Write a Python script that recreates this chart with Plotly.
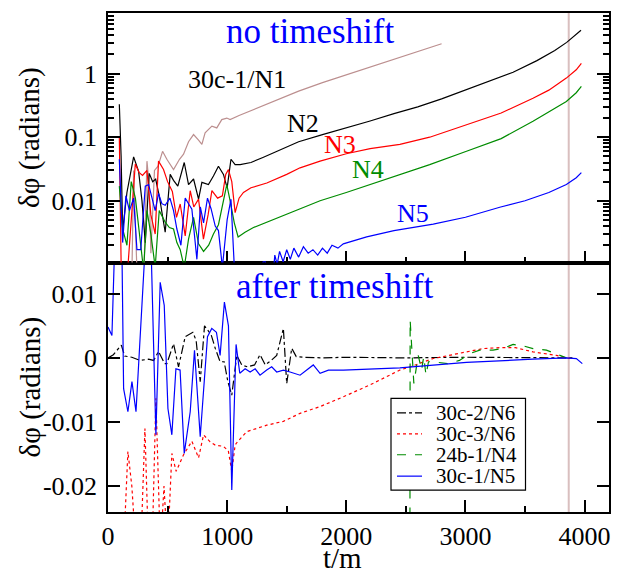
import plotly.graph_objects as go
import math

# ---------------- top panel: no timeshift (log scale) ----------------
t_n1 = [200, 215, 245, 300, 327, 345, 360, 390, 420, 458, 494, 550, 600, 634, 676, 718, 760, 788,
        815, 872, 913, 955, 997, 1025, 1100, 1193, 1400, 1600, 1800, 2000, 2200, 2400, 2600, 2800]
v_n1 = [0.0006, 0.03, 0.0006, 0.0006, 0.042, 0.018, 0.0015, 0.03, 0.035, 0.060, 0.045, 0.031, 0.045,
        0.054, 0.085, 0.110, 0.09, 0.077, 0.117, 0.149, 0.140, 0.189, 0.20, 0.189, 0.22, 0.26, 0.37,
        0.53, 0.72, 0.95, 1.25, 1.65, 2.2, 2.95]

t_n2 = [95, 110, 123, 159, 215, 257, 285, 313, 346, 375, 400, 430, 480, 522, 550, 586, 640, 676, 718,
        760, 788, 843, 885, 927, 969, 1000, 1032, 1067, 1109, 1200, 1300, 1400, 1600, 1800, 2000, 2200,
        2400, 2600, 2800, 3000, 3200, 3400, 3600, 3750, 3850, 3920, 3970]
v_n2 = [0.33, 0.05, 0.0034, 0.0135, 0.049, 0.029, 0.01, 0.0022, 0.027, 0.02, 0.022, 0.012, 0.0032,
        0.026, 0.021, 0.017, 0.040, 0.018, 0.022, 0.0106, 0.0195, 0.018, 0.0245, 0.035, 0.026, 0.016,
        0.045, 0.037, 0.037, 0.040, 0.048, 0.058, 0.085, 0.11, 0.14, 0.18, 0.235, 0.30, 0.40, 0.55,
        0.75, 1.05, 1.6, 2.3, 3.1, 4.0, 4.8]

t_n3 = [95, 112, 160, 200, 229, 260, 290, 327, 360, 396, 424, 466, 500, 540, 575, 606, 648, 690, 720,
        760, 801, 840, 872, 920, 960, 988, 1011, 1039, 1067, 1100, 1137, 1200, 1333, 1500, 1612, 1780,
        2000, 2200, 2450, 2700, 3009, 3300, 3567, 3700, 3847, 3930, 3973]
v_n3 = [0.1, 0.0006, 0.0006, 0.008, 0.038, 0.028, 0.025, 0.03, 0.006, 0.003, 0.042, 0.031, 0.02,
        0.014, 0.0055, 0.0089, 0.0028, 0.0144, 0.008, 0.0106, 0.0025, 0.006, 0.0144, 0.011, 0.012,
        0.026, 0.031, 0.02, 0.0065, 0.011, 0.0135, 0.016, 0.019, 0.026, 0.033, 0.042, 0.055, 0.066,
        0.077, 0.10, 0.158, 0.24, 0.41, 0.55, 0.85, 1.15, 1.45]

t_n4 = [95, 123, 159, 195, 230, 265, 299, 327, 360, 396, 430, 480, 515, 550, 578, 606, 640, 676, 718,
        760, 802, 845, 885, 927, 960, 997, 1025, 1060, 1092, 1150, 1221, 1400, 1612, 1780, 2000, 2200,
        2450, 2700, 3009, 3300, 3567, 3700, 3847, 3930, 3973]
v_n4 = [0.017, 0.0036, 0.002, 0.020, 0.011, 0.0025, 0.0008, 0.007, 0.003, 0.0009, 0.007, 0.0046,
        0.0038, 0.0036, 0.0022, 0.0017, 0.0009, 0.0025, 0.0055, 0.0021, 0.0016, 0.0020, 0.003, 0.0042,
        0.008, 0.018, 0.010, 0.0045, 0.0027, 0.0032, 0.0038, 0.0052, 0.0074, 0.010, 0.0135, 0.018,
        0.026, 0.037, 0.060, 0.095, 0.178, 0.25, 0.365, 0.5, 0.63]

t_n5 = [95, 123, 150, 180, 215, 243, 275, 313, 341, 370, 396, 424, 452, 480, 520, 550, 578, 612, 648,
        676, 704, 746, 775, 802, 835, 865, 900, 927, 960, 1000, 1032, 1067, 1100, 1250, 1303, 1320,
        1340, 1380, 1400, 1420, 1440, 1470, 1500, 1530, 1560, 1600, 1640, 1680, 1720, 1760, 1800, 1840,
        1880, 1930, 1975, 2171, 2400, 2730, 3000, 3288, 3500, 3700, 3847, 3930, 3973]
v_n5 = [0.045, 0.0022, 0.012, 0.007, 0.011, 0.0017, 0.0017, 0.017, 0.018, 0.011, 0.007, 0.013, 0.009,
        0.0085, 0.011, 0.007, 0.0036, 0.002, 0.011, 0.009, 0.0074, 0.0012, 0.008, 0.0045, 0.011,
        0.0075, 0.004, 0.0034, 0.0009, 0.005, 0.0106, 0.0005, 0.0005, 0.0005, 0.0011, 0.0011, 0.0005,
        0.0005, 0.0014, 0.0010, 0.0016, 0.0011, 0.0017, 0.0012, 0.0018, 0.0013, 0.0019, 0.0015, 0.0017,
        0.0014, 0.0018, 0.0015, 0.0020, 0.0018, 0.0021, 0.0027, 0.0034, 0.0043, 0.0055, 0.0079, 0.010,
        0.0135, 0.018, 0.023, 0.0277]

# ---------------- bottom panel: after timeshift ----------------
t_a = [0, 45, 112, 140, 200, 271, 340, 383, 424, 475, 494, 550, 592, 648, 712, 740, 774, 810, 866, 900,
       941, 975, 1006, 1039, 1081, 1123, 1170, 1230, 1276, 1320, 1370, 1416, 1472, 1500, 1542, 1580,
       1650, 1800, 2000, 2500, 3000, 3500, 3900]
v_a = [0, 0.0005, 0.002, 0.0003, 0.0001, -0.0004, -0.0002, -0.0004, 0.001, -0.0009, -0.0009, 0.0022,
       -0.0014, 0.0033, 0.004, 0.0027, -0.0037, 0.005, 0.0036, 0.0015, -0.0006, -0.0006, -0.0037,
       -0.0058, 0.0004, -0.0011, -0.0014, -0.0011, 0.0005, -0.0011, -0.0004, 0.0004, 0.0046, -0.004,
       0.0015, 0.0002, 0.0001, 0.0, 0.0001, 0.0, 0.0001, 0.0, 0.0]

t_b = [131, 167, 200, 235, 275, 310, 340, 370, 402, 440, 470, 500, 536, 572, 634, 704, 760, 802, 857,
       900, 969, 1010, 1039, 1067, 1086, 1165, 1332, 1472, 1612, 1779, 1976, 2200, 2450, 2534, 2730,
       3009, 3149, 3288, 3420, 3567, 3763, 3847, 3900]
v_b = [-0.03, -0.0146, -0.02, -0.03, -0.03, -0.011, -0.03, -0.03, -0.0063, -0.03, -0.02, -0.03,
       -0.0149, -0.0177, -0.0151, -0.013, -0.0156, -0.012, -0.0131, -0.0136, -0.0138, -0.0145,
       -0.0177, -0.0136, -0.0131, -0.0115, -0.0105, -0.0099, -0.00865, -0.0076, -0.00606, -0.0042,
       -0.0019, -0.0014, -0.0001, 0.00093, 0.00145, 0.0016, 0.0016, 0.00093, 0.0004, 0.0, -0.0001]

t_c = [2533, 2536, 2567, 2604, 2632, 2650, 2669, 2690, 2730, 2786, 2850, 2950, 3037, 3120, 3232, 3320,
       3400, 3480, 3567, 3680, 3791, 3847]
v_c = [-0.05, 0.0059, -0.004, 0.0004, -0.0019, 0.0002, -0.0027, -0.0006, -0.0006, -0.0007, -0.0009,
       -0.0004, 0.00067, 0.0012, 0.0012, 0.0015, 0.0021, 0.0019, 0.00145, 0.0012, 0.0004, 0.0]

t_d = [0, 33, 60, 90, 115, 131, 167, 201, 235, 326, 355, 402, 438, 472, 503, 536, 570, 605, 640, 690,
       726, 774, 835, 871, 910, 941, 977, 1011, 1039, 1075, 1106, 1151, 1193, 1235, 1276, 1332, 1374,
       1416, 1472, 1528, 1612, 1723, 1780, 1850, 1976, 2450, 3009, 3567, 3847, 3931, 3981]
v_d = [0.0048, 0.0035, 0.02, 0.02, 0.02, -0.0048, -0.0084, -0.0037, -0.0084, 0.022, 0.022, -0.012,
       0.0118, 0.0082, -0.0079, -0.012, -0.0017, -0.0019, -0.0149, -0.0084, 0.0012, -0.0123, 0.0033,
       0.0046, 0.0040, 0.0004, 0.0087, 0.005, -0.0206, 0.0021, -0.0024, -0.0017, -0.0022, -0.0017,
       -0.0027, -0.0019, -0.0014, -0.0022, -0.0019, -0.0022, -0.0027, -0.0011, -0.0024, -0.0019,
       -0.0019, -0.00155, -0.0007, -0.0002, 0.0, -0.0001, -0.0009]

legend_names = ["30c-2/N6", "30c-3/N6", "24b-1/N4", "30c-1/N5"]
top_labels = ["30c-1/N1", "N2", "N3", "N4", "N5"]
merger_t = 3867

x_ticks = [0, 1000, 2000, 3000, 4000]
x_minor = [500, 1500, 2500, 3500]
ytop_ticks = [0.01, 0.1, 1]
ytop_text = ["0.01", "0.1", "1"]
ybot_ticks = [-0.02, -0.01, 0, 0.01]
ybot_text = ["-0.02", "-0.01", "0", "0.01"]

FONT = "Liberation Serif"
BLACK, RED, GREEN, BLUE, BROWN = "#000000", "#ff0000", "#008c00", "#0000ff", "#bc8f8f"

fig = go.Figure()

# top panel traces
for t, v, c in [(t_n1, v_n1, BROWN), (t_n2, v_n2, BLACK), (t_n3, v_n3, RED),
                (t_n4, v_n4, GREEN), (t_n5, v_n5, BLUE)]:
    fig.add_trace(go.Scatter(x=t, y=v, mode="lines", line=dict(color=c, width=1.2),
                             xaxis="x2", yaxis="y2", showlegend=False))

# bottom panel traces
styles = [(t_a, v_a, BLACK, "dashdot"), (t_b, v_b, RED, "dot"),
          (t_c, v_c, GREEN, "dash"), (t_d, v_d, BLUE, "solid")]
for (t, v, c, d), name in zip(styles, legend_names):
    fig.add_trace(go.Scatter(x=t, y=v, mode="lines", name=name,
                             line=dict(color=c, width=1.2, dash=d),
                             xaxis="x", yaxis="y", showlegend=False))

common_x = dict(range=[0, 4205], tickvals=x_ticks, ticks="inside", ticklen=12, tickwidth=1.5,
                tickcolor="black", showline=True, linecolor="black", linewidth=1.5, mirror=True,
                showgrid=False, zeroline=False,
                minor=dict(tickvals=x_minor, ticks="inside", ticklen=6, tickwidth=1.5,
                           tickcolor="black", showgrid=False),
                tickfont=dict(family=FONT, size=26, color="black"))

minor_log = [m * 10 ** e for e in (-3, -2, -1, 0) for m in range(2, 10)]

fig.update_layout(
    width=625, height=576,
    margin=dict(l=108, r=16, t=11, b=64),
    paper_bgcolor="white", plot_bgcolor="white",
    font=dict(family=FONT),
    xaxis=dict(domain=[0, 1], anchor="y", **common_x),
    xaxis2=dict(domain=[0, 1], anchor="y2", matches="x", showticklabels=False,
                **{k: v for k, v in common_x.items() if k != "tickfont"}),
    yaxis=dict(domain=[0, 0.5], anchor="x", range=[-0.02404, 0.01488],
               tickvals=ybot_ticks, ticktext=ybot_text, ticks="inside", ticklen=12, tickwidth=1.5,
               tickcolor="black", showline=True, linecolor="black", linewidth=1.5, mirror="ticks",
               showgrid=False, zeroline=False, ticklabelstandoff=4,
               tickfont=dict(family=FONT, size=26, color="black")),
    yaxis2=dict(domain=[0.5, 1], anchor="x2", type="log",
                range=[math.log10(0.00107), math.log10(8.98)],
                tickvals=ytop_ticks, ticktext=ytop_text, ticks="inside", ticklen=12, tickwidth=1.5,
                tickcolor="black", showline=True, linecolor="black", linewidth=1.5, mirror="ticks",
                showgrid=False, zeroline=False, ticklabelstandoff=4,
                minor=dict(tickvals=minor_log, ticks="inside", ticklen=6, tickwidth=1.5,
                           tickcolor="black", showgrid=False),
                tickfont=dict(family=FONT, size=26, color="black")),
    showlegend=False,
)

H = 501.0
W = 501.0
def px(xp):
    return (xp - 108) / W
def py(yp):
    return (512 - yp) / H

fig.add_shape(type="line", xref="x", yref="paper", x0=merger_t, x1=merger_t, y0=0, y1=1,
              line=dict(color="#d9bfbf", width=2), layer="below")

# legend box (drawn manually to match the original layout)
fig.add_shape(type="rect", xref="paper", yref="paper", x0=px(391), x1=px(525.5),
              y0=py(490), y1=py(398), line=dict(color="black", width=1.2), fillcolor="white",
              layer="above")
row_y = [412.5, 433.5, 454.5, 476]
for (t, v, c, d), name, ry in zip(styles, legend_names, row_y):
    fig.add_shape(type="line", xref="paper", yref="paper", x0=px(397), x1=px(422),
                  y0=py(ry), y1=py(ry), line=dict(color=c, width=1.2, dash=d), layer="above")
    fig.add_annotation(text=name, x=px(434), y=py(ry), xref="paper", yref="paper",
                       showarrow=False, xanchor="left", yanchor="middle",
                       font=dict(family=FONT, size=21, color="black"))

ann = [
    ("no timeshift", 309.5, 30, BLUE, 35),
    ("after timeshift", 335, 286, BLUE, 35),
    (top_labels[0], 237, 78, BLACK, 26),
    (top_labels[1], 303, 122, BLACK, 26),
    (top_labels[2], 339.5, 143.5, RED, 26),
    (top_labels[3], 367.5, 168, GREEN, 26),
    (top_labels[4], 412.5, 212.5, BLUE, 26),
]
for text, x, y, c, s in ann:
    fig.add_annotation(text=text, x=px(x), y=py(y), xref="paper", yref="paper",
                       showarrow=False, xanchor="center", yanchor="middle",
                       font=dict(family=FONT, size=s, color=c))

for yc in (136.5, 387):
    fig.add_annotation(text="δφ (radians)", x=px(30), y=py(yc), xref="paper", yref="paper",
                       showarrow=False, textangle=-90, xanchor="center", yanchor="middle",
                       font=dict(family=FONT, size=29, color="black"))

fig.add_annotation(text="t/m", x=px(342), y=py(576), xref="paper", yref="paper",
                   showarrow=False, xanchor="center", yanchor="bottom",
                   font=dict(family=FONT, size=29, color="black"))

fig.write_html("out.html", config={"displayModeBar": False},
               post_script="document.body.style.margin='0';document.body.style.padding='0';")
